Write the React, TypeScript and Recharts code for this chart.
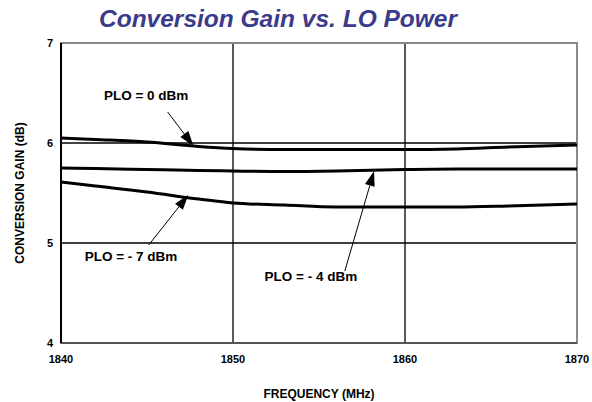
import { LineChart, Line, XAxis, YAxis, CartesianGrid, ReferenceLine, ReferenceDot, ReferenceArea } from 'recharts'

const frequency = [1840, 1842, 1845, 1848, 1850, 1853, 1856, 1860, 1863, 1866, 1870]
const gain0dBm = [6.05, 6.035, 6.01, 5.965, 5.945, 5.935, 5.935, 5.935, 5.94, 5.96, 5.98]
const gainMinus4dBm = [5.75, 5.745, 5.735, 5.725, 5.72, 5.715, 5.72, 5.735, 5.74, 5.74, 5.74]
const gainMinus7dBm = [5.61, 5.57, 5.51, 5.44, 5.4, 5.38, 5.36, 5.36, 5.36, 5.37, 5.39]

const xTicks = [1840, 1850, 1860, 1870]
const yTicks = [4, 5, 6, 7]

// callouts in data units: label point, arrow tail, arrow head
const callouts = [
  { text: 'PLO = 0 dBm', lx: 1844.95, ly: 6.48, tx: 1846.2, ty: 6.31, hx: 1847.7, hy: 5.97 },
  { text: 'PLO = - 7 dBm', lx: 1844.07, ly: 4.866, tx: 1845.1, ty: 4.98, hx: 1847.4, hy: 5.48 },
  { text: 'PLO = - 4 dBm', lx: 1854.53, ly: 4.664, tx: 1856.5, ty: 4.72, hx: 1858.2, hy: 5.72 },
]

const data = frequency.map((f, i) => ({
  f,
  p0: gain0dBm[i],
  p4: gainMinus4dBm[i],
  p7: gainMinus7dBm[i],
}))

const font = 'Arial, "Liberation Sans", sans-serif'

function Arrow(props: any) {
  const { x1, y1, x2, y2 } = props
  const ang = Math.atan2(y2 - y1, x2 - x1)
  const len = 15
  const hw = 5
  const bx = x2 - len * Math.cos(ang)
  const by = y2 - len * Math.sin(ang)
  const px = -Math.sin(ang) * hw
  const py = Math.cos(ang) * hw
  return (
    <g>
      <line x1={x1} y1={y1} x2={bx} y2={by} stroke="#000" strokeWidth={1} />
      <polygon points={`${x2},${y2} ${bx + px},${by + py} ${bx - px},${by - py}`} fill="#000" />
    </g>
  )
}

function CalloutText(text: string) {
  return (props: any) => (
    <text x={props.cx} y={props.cy} textAnchor="middle" dominantBaseline="central"
      fontFamily={font} fontWeight="bold" fontSize={13.5} fill="#000">
      {text}
    </text>
  )
}

export default function App() {
  return (
    <div style={{ position: 'absolute', left: 0, top: 0, width: 592, height: 402, background: '#fff' }}>
      <div style={{
        position: 'absolute', left: 278, top: 5, transform: 'translateX(-50%)', whiteSpace: 'nowrap',
        fontFamily: font, fontStyle: 'italic', fontWeight: 'bold', fontSize: 24.5, color: '#3b3b8c',
      }}>
        Conversion Gain vs. LO Power
      </div>
      <LineChart width={592} height={402} data={data} margin={{ top: 43, right: 15, bottom: 0, left: 0 }}>
        <CartesianGrid stroke="#000" strokeWidth={1.3} />
        <ReferenceArea x1={1840} x2={1870} y1={4} y2={7} fill="none" fillOpacity={0} stroke="#8a8a8a" strokeWidth={2} />
        <XAxis
          dataKey="f"
          type="number"
          domain={[1840, 1870]}
          ticks={xTicks}
          height={59}
          tickLine={false}
          axisLine={{ stroke: '#555', strokeWidth: 2 }}
          tick={{ fontSize: 11, fontWeight: 'bold', fill: '#000', fontFamily: font }}
          tickMargin={6}
          label={{ value: 'FREQUENCY (MHz)', position: 'insideBottom', offset: 4, fontSize: 12, fontWeight: 'bold', fill: '#000', fontFamily: font }}
        />
        <YAxis
          type="number"
          domain={[4, 7]}
          ticks={yTicks}
          width={61}
          tickLine={false}
          axisLine={{ stroke: '#000', strokeWidth: 2 }}
          tick={{ fontSize: 11, fontWeight: 'bold', fill: '#000', fontFamily: font }}
          tickMargin={2}
          label={{ value: 'CONVERSION GAIN (dB)', angle: -90, position: 'insideLeft', offset: 20, fontSize: 12, fontWeight: 'bold', fill: '#000', fontFamily: font, style: { textAnchor: 'middle' } }}
        />
        <Line type="monotone" dataKey="p0" stroke="#000" strokeWidth={3} dot={false} isAnimationActive={false} />
        <Line type="monotone" dataKey="p4" stroke="#000" strokeWidth={3} dot={false} isAnimationActive={false} />
        <Line type="monotone" dataKey="p7" stroke="#000" strokeWidth={3} dot={false} isAnimationActive={false} />
        {callouts.map((c) => (
          <ReferenceLine
            key={'a' + c.text}
            segment={[{ x: c.tx, y: c.ty }, { x: c.hx, y: c.hy }]}
            shape={Arrow}
            ifOverflow="visible"
          />
        ))}
        {callouts.map((c) => (
          <ReferenceDot key={'t' + c.text} x={c.lx} y={c.ly} r={0} shape={CalloutText(c.text)} ifOverflow="visible" />
        ))}
      </LineChart>
    </div>
  )
}
